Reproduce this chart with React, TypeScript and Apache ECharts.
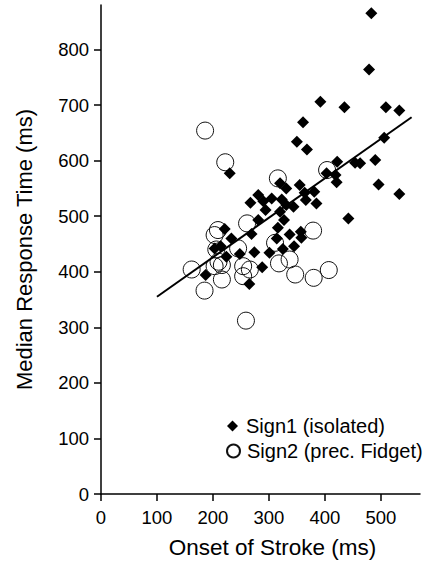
import React, { useEffect, useRef } from "react";
import * as echarts from "echarts";

// Sign1 (isolated) — diamonds
const sign1X = [483, 479, 392, 435, 509, 533, 361, 350, 368, 506, 422, 454, 463, 490, 230, 403, 419, 421, 496, 533, 320, 331, 355, 364, 381, 281, 267, 305, 290, 294, 323, 331, 366, 385, 344, 320, 327, 281, 442, 316, 221, 337, 357, 358, 269, 233, 314, 345, 325, 203, 214, 274, 248, 301, 224, 288, 187, 265];
const sign1Y = [865, 764, 706, 696, 696, 690, 669, 634, 620, 641, 598, 596, 595, 601, 577, 577, 574, 561, 557, 540, 559, 550, 556, 542, 544, 538, 524, 532, 527, 511, 530, 520, 529, 523, 517, 508, 493, 493, 496, 479, 477, 467, 472, 461, 468, 460, 460, 446, 441, 442, 446, 435, 432, 434, 427, 408, 394, 378];

// Sign2 (prec. Fidget) — open circles
const sign2X = [186, 222, 316, 404, 261, 209, 379, 311, 203, 206, 245, 210, 203, 216, 162, 185, 216, 254, 266, 254, 318, 337, 347, 380, 407, 259];
const sign2Y = [654, 597, 568, 583, 487, 475, 474, 452, 466, 440, 442, 418, 410, 412, 404, 366, 386, 410, 404, 392, 415, 422, 395, 389, 403, 312];

// Regression line end points
const fitX = [100, 555];
const fitY = [355, 678];

const xTicks = [0, 100, 200, 300, 400, 500];
const yTicks = [0, 100, 200, 300, 400, 500, 600, 700, 800];

const FONT = "Liberation Sans, Arial, sans-serif";

export default function App() {
  const ref = useRef<HTMLDivElement>(null);
  useEffect(() => {
    if (!ref.current) return;
    const chart = echarts.init(ref.current, null, { renderer: "svg" });
    const s1 = sign1X.map((x, i) => [x, sign1Y[i]]);
    const s2 = sign2X.map((x, i) => [x, sign2Y[i]]);
    const fit = fitX.map((x, i) => [x, fitY[i]]);
    chart.setOption({
      animation: false,
      backgroundColor: "#ffffff",
      grid: { left: 101, right: 7, top: 5, bottom: 76 },
      legend: [
        {
          data: [{ name: "Sign1 (isolated)", icon: "diamond" }],
          left: 222,
          top: 411,
          itemWidth: 11,
          itemHeight: 11,
          textStyle: { fontFamily: FONT, fontSize: 20, color: "#000", padding: [0, 0, 0, 3] },
        },
        {
          data: [{ name: "Sign2 (prec. Fidget)", icon: "circle" }],
          left: 221,
          top: 436,
          itemWidth: 13,
          itemHeight: 13,
          textStyle: { fontFamily: FONT, fontSize: 20, color: "#000", padding: [0, 0, 0, 2] },
        },
      ],
      xAxis: {
        type: "value",
        min: 0,
        max: 570,
        name: "Onset of Stroke (ms)",
        nameLocation: "middle",
        nameGap: 42,
        nameTextStyle: { fontFamily: FONT, fontSize: 22.5, color: "#000", padding: [0, 0, 0, 24] },
        splitLine: { show: false },
        axisLine: { show: true, onZero: false, lineStyle: { color: "#000", width: 1.5 } },
        axisTick: { show: true, length: 7, lineStyle: { color: "#000", width: 1.5 }, customValues: xTicks },
        axisLabel: { fontFamily: FONT, fontSize: 18.5, color: "#000", margin: 14, customValues: xTicks },
      },
      yAxis: {
        type: "value",
        min: 0,
        max: 880,
        name: "Median Response Time (ms)",
        nameLocation: "middle",
        nameGap: 66,
        nameTextStyle: { fontFamily: FONT, fontSize: 22, color: "#000" },
        splitLine: { show: false },
        axisLine: { show: true, onZero: false, lineStyle: { color: "#000", width: 1.5 } },
        axisTick: { show: true, length: 7, lineStyle: { color: "#000", width: 1.5 }, customValues: yTicks },
        axisLabel: { fontFamily: FONT, fontSize: 18.5, color: "#000", margin: 12, customValues: yTicks },
      },
      series: [
        {
          name: "Sign2 (prec. Fidget)",
          type: "scatter",
          symbol: "circle",
          symbolSize: 17,
          data: s2,
          itemStyle: { color: "rgba(255,255,255,0)", borderColor: "#111", borderWidth: 1, opacity: 1 },
        },
        {
          name: "Sign1 (isolated)",
          type: "scatter",
          symbol: "diamond",
          symbolSize: 12,
          data: s1,
          itemStyle: { color: "#000", opacity: 1 },
        },
        {
          name: "fit",
          type: "line",
          data: fit,
          symbol: "none",
          lineStyle: { color: "#000", width: 2 },
          silent: true,
        },
      ],
    });
    return () => chart.dispose();
  }, []);
  return <div ref={ref} style={{ width: 427, height: 570, position: "absolute", left: 0, top: 0 }} />;
}
